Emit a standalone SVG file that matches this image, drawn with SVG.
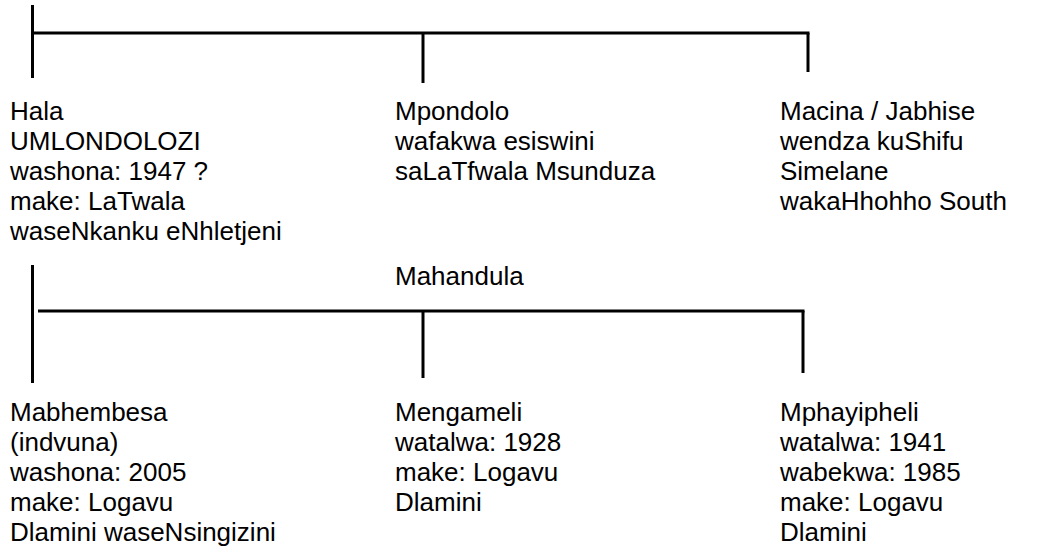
<svg xmlns="http://www.w3.org/2000/svg" width="1041" height="557" viewBox="0 0 1041 557">
<style>
text{font-family:"Liberation Sans",Arial,sans-serif;font-size:26px;fill:#000}
.ln{stroke:#000;stroke-width:3;fill:none}
</style>
<rect width="1041" height="557" fill="#fff"/>
<g id="connectors">
<line class="ln" x1="32.5" y1="5" x2="32.5" y2="78"/>
<line class="ln" x1="32" y1="33" x2="809.5" y2="33"/>
<line class="ln" x1="423" y1="33" x2="423" y2="83"/>
<line class="ln" x1="808" y1="33" x2="808" y2="72"/>
<line class="ln" x1="32.5" y1="265" x2="32.5" y2="383"/>
<line class="ln" x1="38" y1="311" x2="804.5" y2="311"/>
<line class="ln" x1="423" y1="311" x2="423" y2="378"/>
<line class="ln" x1="803" y1="311" x2="803" y2="373"/>
</g>
<g id="hala">
<text x="10" y="120">Hala</text>
<text x="10" y="150">UMLONDOLOZI</text>
<text x="10" y="180">washona: 1947 ?</text>
<text x="10" y="210">make: LaTwala</text>
<text x="10" y="240">waseNkanku eNhletjeni</text>
</g>
<g id="mpondolo">
<text x="395" y="120">Mpondolo</text>
<text x="395" y="150">wafakwa esiswini</text>
<text x="395" y="180">saLaTfwala Msunduza</text>
</g>
<g id="macina">
<text x="780" y="120">Macina / Jabhise</text>
<text x="780" y="150">wendza kuShifu</text>
<text x="780" y="180">Simelane</text>
<text x="780" y="210">wakaHhohho South</text>
</g>
<g id="mahandula">
<text x="395" y="285">Mahandula</text>
</g>
<g id="mabhembesa">
<text x="10" y="421">Mabhembesa</text>
<text x="10" y="451">(indvuna)</text>
<text x="10" y="481">washona: 2005</text>
<text x="10" y="511">make: Logavu</text>
<text x="10" y="541">Dlamini waseNsingizini</text>
</g>
<g id="mengameli">
<text x="395" y="421">Mengameli</text>
<text x="395" y="451">watalwa: 1928</text>
<text x="395" y="481">make: Logavu</text>
<text x="395" y="511">Dlamini</text>
</g>
<g id="mphayipheli">
<text x="780" y="421">Mphayipheli</text>
<text x="780" y="451">watalwa: 1941</text>
<text x="780" y="481">wabekwa: 1985</text>
<text x="780" y="511">make: Logavu</text>
<text x="780" y="541">Dlamini</text>
</g>
</svg>
